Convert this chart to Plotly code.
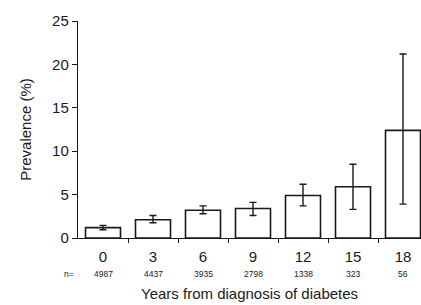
import plotly.graph_objects as go

years = ["0", "3", "6", "9", "12", "15", "18"]
n_values = ["4987", "4437", "3935", "2798", "1338", "323", "56"]
prevalence = [1.2, 2.1, 3.2, 3.4, 4.9, 5.9, 12.4]
upper = [1.45, 2.6, 3.7, 4.1, 6.2, 8.5, 21.2]
lower = [0.95, 1.75, 2.8, 2.6, 3.7, 3.3, 3.9]

idx = list(range(len(years)))
err_plus = [u - p for u, p in zip(upper, prevalence)]
err_minus = [p - l for p, l in zip(prevalence, lower)]

ink = "#1a1a1a"
font = "Liberation Sans, Arial, sans-serif"

fig = go.Figure()
fig.add_trace(go.Bar(
    x=idx, y=prevalence, width=0.7,
    marker=dict(color="white", line=dict(color=ink, width=1.6)),
    error_y=dict(type="data", symmetric=False, array=err_plus, arrayminus=err_minus,
                 color=ink, thickness=1.4, width=3.5),
    showlegend=False,
))

annotations = [dict(x=i, y=(238 - 274) / 217, xref="x", yref="paper", text=n, showarrow=False,
                    font=dict(size=8.5, color=ink, family=font), yanchor="middle")
               for i, n in zip(idx, n_values)]
annotations.append(dict(x=(62 - 78) / 343, y=(238 - 274) / 217, xref="paper", yref="paper",
                        text="n=", showarrow=False, yanchor="middle",
                        font=dict(size=8.5, color=ink, family=font)))
annotations.append(dict(x=0.5, y=(238 - 293) / 217, xref="paper", yref="paper",
                        text="Years from diagnosis of diabetes", showarrow=False,
                        font=dict(size=15, color=ink, family=font), yanchor="middle"))

fig.update_layout(
    width=421, height=305,
    margin=dict(l=78, r=0, t=21, b=67),
    paper_bgcolor="white", plot_bgcolor="white",
    font=dict(family=font, color=ink, size=15),
    bargap=0.3,
    xaxis=dict(
        range=[-0.5, 6.36], tickmode="array", tickvals=idx, ticktext=years,
        ticks="", showline=True, linecolor=ink, linewidth=1.4, showgrid=False, zeroline=False,
        tickfont=dict(size=15, color=ink, family=font), ticklabelstandoff=5,
        minor=dict(tickmode="array", tickvals=[i + 0.5 for i in idx[:-1]], ticks="outside",
                   ticklen=4, tickwidth=1.4, tickcolor=ink, showgrid=False),
    ),
    yaxis=dict(
        range=[0, 25], tickvals=[0, 5, 10, 15, 20, 25], ticks="outside", ticklen=5,
        tickwidth=1.4, tickcolor=ink, showline=True, linecolor=ink, linewidth=1.4,
        showgrid=False, zeroline=False, tickfont=dict(size=15, color=ink, family=font),
        title=dict(text="Prevalence (%)", font=dict(size=15, color=ink, family=font), standoff=16),
    ),
    annotations=annotations,
)

fig.write_html("out.html", config={"displayModeBar": False},
               post_script="document.body.style.margin='0';document.body.style.overflow='hidden';")
